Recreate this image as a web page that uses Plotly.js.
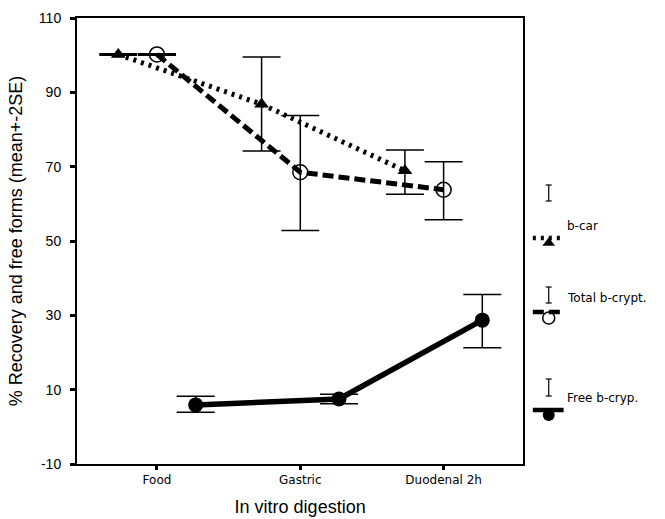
<!DOCTYPE html>
<html>
<head>
<meta charset="utf-8">
<script src="https://cdn.plot.ly/plotly-3.0.1.min.js"></script>
<style>html,body{margin:0;padding:0;background:#fff;}#chart{width:665px;height:519px;}</style>
</head>
<body>
<div id="chart"></div>
<script>
// ---- data ----
var categories = ["Food", "Gastric", "Duodenal 2h"];
var seriesNames = ["b-car", "Total b-crypt.", "Free b-cryp."];
var bcarMean  = [100.2, 86.8, 68.9];
var bcarUpper = [100.4, 99.5, 74.5];
var bcarLower = [100.0, 74.2, 62.6];
var totalMean  = [100.2, 68.5, 63.8];
var totalUpper = [100.4, 83.8, 71.3];
var totalLower = [100.0, 52.8, 55.7];
var freeMean  = [5.9, 7.5, 28.7];
var freeUpper = [8.2, 8.8, 35.6];
var freeLower = [3.9, 6.2, 21.3];
var yTicks = [-10, 10, 30, 50, 70, 90, 110];
var yTickText = ["-10", "10", "30", "50", "70", "90", "110"];

var offsets = [-0.27, 0, 0.27];
function xs(k){ return categories.map(function(c,i){ return i + 1 + offsets[k]; }); }
function up(m,u){ return m.map(function(v,i){ return u[i]-v; }); }
function dn(m,l){ return m.map(function(v,i){ return v-l[i]; }); }

var errStyle = {type:'data', symmetric:false, color:'#000', thickness:1.5, width:19};
var traces = [
  {x:xs(0), y:bcarMean, mode:'lines+markers', type:'scatter',
   line:{color:'#000', width:5, dash:'3px,5px'},
   marker:{symbol:'triangle-up', size:13, color:'#000'},
   error_y:Object.assign({array:up(bcarMean,bcarUpper), arrayminus:dn(bcarMean,bcarLower)}, errStyle)},
  {x:xs(1), y:totalMean, mode:'lines+markers', type:'scatter',
   line:{color:'#000', width:5, dash:'11px,5px'},
   marker:{symbol:'circle-open', size:15, color:'#000', line:{width:1.5, color:'#000'}},
   error_y:Object.assign({array:up(totalMean,totalUpper), arrayminus:dn(totalMean,totalLower)}, errStyle)},
  {x:xs(2), y:freeMean, mode:'lines+markers', type:'scatter',
   line:{color:'#000', width:5.5},
   marker:{symbol:'circle', size:15, color:'#000'},
   error_y:Object.assign({array:up(freeMean,freeUpper), arrayminus:dn(freeMean,freeLower)}, errStyle)}
];

// ---- custom legend (pixel-like coords on overlay axis) ----
var legY = [[185,201,238,243,226],[287,303,312,318,298],[379,396,410,415,398]];
var legDash = ['3px,5px','11px,5px','solid'];
var legMarker = [
  {symbol:'triangle-up', size:11, color:'#000'},
  {symbol:'circle-open', size:12, color:'#000', line:{width:1.5,color:'#000'}},
  {symbol:'circle', size:12, color:'#000'}
];
var shapes = [];
var annotations = [];
seriesNames.forEach(function(name,k){
  var g = legY[k];
  traces.push({x:[532,563], y:[g[2],g[2]], xaxis:'x2', yaxis:'y2', mode:'lines', type:'scatter',
    line:{color:'#000', width:4.5, dash:legDash[k]}, hoverinfo:'skip'});
  traces.push({x:[548], y:[g[3]], xaxis:'x2', yaxis:'y2', mode:'markers', type:'scatter',
    marker:legMarker[k], hoverinfo:'skip'});
  shapes.push({type:'line', xref:'x2', yref:'y2', x0:548, x1:548, y0:g[0], y1:g[1], line:{color:'#000', width:1.2}});
  shapes.push({type:'line', xref:'x2', yref:'y2', x0:545, x1:551, y0:g[0], y1:g[0], line:{color:'#000', width:1.2}});
  shapes.push({type:'line', xref:'x2', yref:'y2', x0:545, x1:551, y0:g[1], y1:g[1], line:{color:'#000', width:1.2}});
  annotations.push({xref:'x2', yref:'y2', x:564, y:g[4], text:name, showarrow:false, xanchor:'left', yanchor:'middle',
    font:{family:'DejaVu Sans', size:12, color:'#000'}});
});

var layout = {
  width:665, height:519,
  margin:{l:77, r:0, t:18, b:55},
  paper_bgcolor:'#fff', plot_bgcolor:'#fff',
  showlegend:false,
  xaxis:{domain:[0,0.759], range:[0.442,3.556], tickvals:[1,2,3], ticktext:categories,
    showline:true, linecolor:'#000', linewidth:2, mirror:true, showgrid:false, zeroline:false,
    ticks:'outside', ticklen:4, tickwidth:3, tickcolor:'#000',
    tickfont:{family:'DejaVu Sans', size:12, color:'#000'},
    title:{text:'In vitro digestion', font:{family:'Liberation Sans', size:18, color:'#000'}, standoff:14}},
  yaxis:{range:[-10,110], tickvals:yTicks, ticktext:yTickText,
    showline:true, linecolor:'#000', linewidth:2, mirror:true, showgrid:false, zeroline:false,
    ticks:'outside', ticklen:5, tickwidth:3, tickcolor:'#000', ticklabelstandoff:6,
    tickfont:{family:'Liberation Sans', size:14, color:'#000'},
    title:{text:'% Recovery and free forms (mean+-2SE)', font:{family:'Liberation Sans', size:18, color:'#000'}, standoff:12}},
  xaxis2:{domain:[0.76,1], range:[523,665], visible:false, fixedrange:true},
  yaxis2:{anchor:'x2', range:[464,18], visible:false, fixedrange:true},
  shapes:shapes,
  annotations:annotations
};
Plotly.newPlot('chart', traces, layout, {displayModeBar:false, staticPlot:true});
</script>
</body>
</html>
